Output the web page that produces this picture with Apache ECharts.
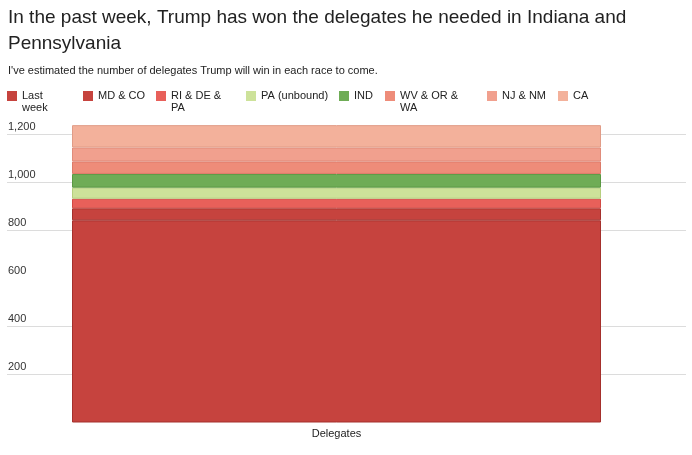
<!DOCTYPE html>
<html>
<head>
<meta charset="utf-8">
<script src="https://cdn.jsdelivr.net/npm/echarts@6/dist/echarts.min.js"></script>
<style>
html,body{margin:0;padding:0;background:#fff;}
#chart{width:692px;height:455px;}
</style>
</head>
<body>
<div id="chart"></div>
<script>
// ---- data ----
const categories = ['Delegates'];
const seriesNames = ['Last week', 'MD & CO', 'RI & DE & PA', 'PA (unbound)', 'IND', 'WV & OR & WA', 'NJ & NM', 'CA'];
const lastWeek = [841];
const mdCo = [50];
const riDePa = [40];
const paUnbound = [46];
const ind = [57];
const wvOrWa = [52];
const njNm = [58];
const ca = [93];
const yTicks = [0, 200, 400, 600, 800, 1000, 1200];
const legendLabels = ['Last\nweek', 'MD & CO', 'RI & DE &\nPA', 'PA (unbound)', 'IND', 'WV & OR &\nWA', 'NJ & NM', 'CA'];

// ---- styles ----
const seriesValues = [lastWeek, mdCo, riDePa, paUnbound, ind, wvOrWa, njNm, ca];
const fills = ['#c6433e', '#c6433e', '#e8605a', '#cde29a', '#6fac56', '#ee8c79', '#f1a08e', '#f3b19b'];
const borders = ['#a5302c', '#a5302c', '#d24a44', '#b6cf7e', '#5a9842', '#dc7a68', '#e08c7b', '#e19c87'];
const legendLeft = [7, 83, 156, 246, 339, 385, 487, 558];
const FONT = 'Helvetica, Arial, "Liberation Sans", sans-serif';

const chart = echarts.init(document.getElementById('chart'), null, {renderer: 'canvas'});

const legends = seriesNames.map((name, i) => {
  const wrapped = legendLabels[i].indexOf('\n') >= 0;
  return {
    data: [name],
    left: legendLeft[i],
    top: wrapped ? 78 : 90,
    padding: 0,
    itemWidth: 10,
    itemHeight: 10,
    itemGap: 0,
    icon: 'rect',
    itemStyle: {borderWidth: 0},
    // a blank leading line keeps the first text line level with the icon
    formatter: () => wrapped ? ' \n' + legendLabels[i] : legendLabels[i],
    textStyle: {fontFamily: FONT, fontSize: 11, color: '#222', lineHeight: 12},
    selectedMode: false
  };
});

const yMax = 1300;
const lineColors = yTicks.map(v => (v === 0 || v === 600) ? 'rgba(0,0,0,0)' : '#dcdcdc');
lineColors.push('rgba(0,0,0,0)');

const option = {
  backgroundColor: '#fff',
  animation: false,
  title: [
    {
      text: 'In the past week, Trump has won the delegates he needed in Indiana and\nPennsylvania',
      left: 8, top: 5, padding: 0,
      textStyle: {fontFamily: FONT, fontSize: 19, fontWeight: 'normal', color: '#222', lineHeight: 26}
    },
    {
      text: "I've estimated the number of delegates Trump will win in each race to come.",
      left: 8, top: 65, padding: 0,
      textStyle: {fontFamily: FONT, fontSize: 11, fontWeight: 'normal', color: '#222', lineHeight: 12}
    }
  ],
  legend: legends,
  grid: [
    {left: 7, right: 6, top: 110, bottom: 32.5},
    {left: 72, right: 91, top: 110, bottom: 32.5}
  ],
  xAxis: [
    {gridIndex: 0, type: 'category', data: categories, show: false},
    {
      gridIndex: 1, type: 'category', data: categories,
      axisLine: {show: false}, axisTick: {show: false},
      axisLabel: {margin: 6, fontFamily: FONT, fontSize: 11, color: '#222'}
    }
  ],
  yAxis: [
    {
      gridIndex: 0, type: 'value', min: 0, max: yMax, interval: 200,
      axisLine: {show: false}, axisTick: {show: false},
      axisLabel: {
        inside: true, margin: 1, showMaxLabel: false,
        verticalAlign: 'bottom', lineHeight: 14,
        fontFamily: FONT, fontSize: 11, color: '#333',
        formatter: v => v === 0 ? '' : v.toLocaleString('en-US')
      },
      splitLine: {show: true, lineStyle: {color: lineColors, width: 1}}
    },
    {
      gridIndex: 1, type: 'value', min: 0, max: yMax, interval: 200,
      show: false, splitLine: {show: false}
    }
  ],
  series: seriesNames.map((name, i) => ({
    name: name,
    type: 'bar',
    stack: 'total',
    xAxisIndex: 1,
    yAxisIndex: 1,
    barWidth: '100%',
    data: seriesValues[i],
    itemStyle: {color: fills[i], borderColor: borders[i], borderWidth: 1},
    emphasis: {disabled: true}
  }))
};

chart.setOption(option);
</script>
</body>
</html>
